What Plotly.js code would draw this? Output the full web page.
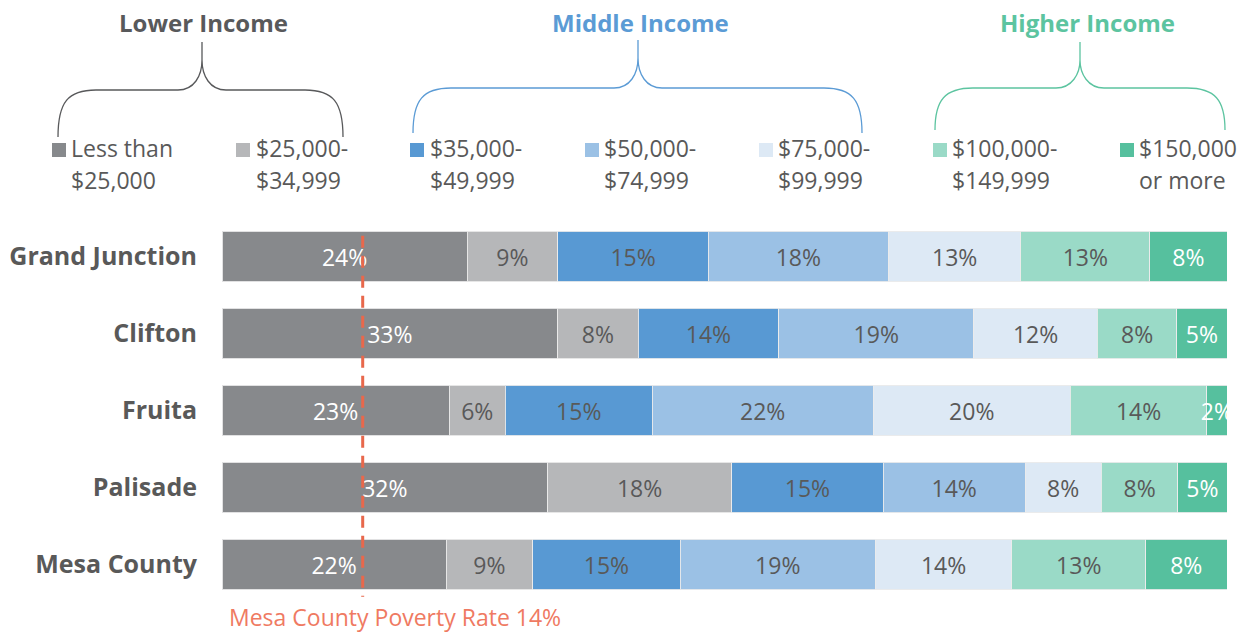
<!DOCTYPE html>
<html>
<head>
<meta charset="utf-8">
<script src="https://cdn.plot.ly/plotly-3.0.1.min.js"></script>
<style>html,body{margin:0;padding:0;background:#fff;}#chart{width:1250px;height:633px;}</style>
</head>
<body>
<div id="chart"></div>
<script>
// ---- data ----
var categories = ['Grand Junction', 'Clifton', 'Fruita', 'Palisade', 'Mesa County'];
var seriesNames = ['Less than $25,000', '$25,000-$34,999', '$35,000-$49,999', '$50,000-$74,999', '$75,000-$99,999', '$100,000-$149,999', '$150,000 or more'];
var legendLine1 = ['Less than', '$25,000-', '$35,000-', '$50,000-', '$75,000-', '$100,000-', '$150,000'];
var legendLine2 = ['$25,000', '$34,999', '$49,999', '$74,999', '$99,999', '$149,999', 'or more'];
var lessThan25k = [24.4, 33.4, 22.6, 32.4, 22.3];
var from25kTo35k = [9.0, 8.0, 5.6, 18.3, 8.6];
var from35kTo50k = [15.0, 14.0, 14.6, 15.1, 14.7];
var from50kTo75k = [17.9, 19.4, 22.0, 14.1, 19.4];
var from75kTo100k = [13.2, 12.3, 19.6, 7.6, 13.6];
var from100kTo150k = [12.8, 7.9, 13.6, 7.6, 13.3];
var over150k = [7.7, 5.0, 2.0, 4.9, 8.1];
var groupTitles = ['Lower Income', 'Middle Income', 'Higher Income'];
var povertyRate = 14;
var povertyLabel = 'Mesa County Poverty Rate 14%';

// ---- styles ----
var colors = ['#87898C', '#B6B7B9', '#5899D3', '#9BC1E5', '#DDE9F5', '#9ADAC7', '#56C09E'];
var textColors = ['#FFFFFF', '#595959', '#595959', '#595959', '#595959', '#595959', '#FFFFFF'];
var groupColors = ['#58595B', '#5B9BD5', '#5CC4A0'];
var FONT = '"Open Sans", "Noto Sans", sans-serif';

var allSeries = [lessThan25k, from25kTo35k, from35kTo50k, from50kTo75k, from75kTo100k, from100kTo150k, over150k];

var traces = allSeries.map(function (vals, i) {
  return {
    type: 'bar',
    orientation: 'h',
    name: seriesNames[i],
    y: categories,
    x: vals,
    text: vals.map(function (v) { return Math.round(v) + '%'; }),
    textposition: 'inside',
    insidetextanchor: 'middle',
    constraintext: 'none',
    textangle: 0,
    textfont: { family: FONT, size: 23, color: textColors[i] },
    marker: { color: colors[i], line: { color: 'rgba(235,235,235,0.9)', width: 1 } },
    hoverinfo: 'x+name',
    cliponaxis: true
  };
});

// plot area geometry (pixels) for converting header positions to paper coords
var L = 222, R = 1227, T = 218, B = 603;
function px(x) { return (x - L) / (R - L); }
function py(y) { return (B - y) / (B - T); }

function brace(x0, xc, x1, yb, yh, yt) {
  var p = [];
  function pt(x, y) { return px(x).toFixed(5) + ',' + py(y).toFixed(5); }
  p.push('M ' + pt(x0, yb));
  p.push('C ' + pt(x0, yh + 12) + ' ' + pt(x0 + 10, yh) + ' ' + pt(x0 + 38, yh));
  p.push('L ' + pt(xc - 24, yh));
  p.push('C ' + pt(xc - 8, yh) + ' ' + pt(xc, yh - 14) + ' ' + pt(xc, yt + 18));
  p.push('L ' + pt(xc, yt));
  p.push('M ' + pt(xc, yt + 18));
  p.push('C ' + pt(xc, yh - 14) + ' ' + pt(xc + 8, yh) + ' ' + pt(xc + 24, yh));
  p.push('L ' + pt(x1 - 38, yh));
  p.push('C ' + pt(x1 - 10, yh) + ' ' + pt(x1, yh + 12) + ' ' + pt(x1, yb));
  return p.join(' ');
}

var shapes = [
  { type: 'path', xref: 'paper', yref: 'paper', path: brace(58, 202, 343, 137, 90, 42), line: { color: groupColors[0], width: 1.3 } },
  { type: 'path', xref: 'paper', yref: 'paper', path: brace(413, 638, 862, 133, 88, 40), line: { color: groupColors[1], width: 1.3 } },
  { type: 'path', xref: 'paper', yref: 'paper', path: brace(935, 1080, 1225, 130, 88, 42), line: { color: groupColors[2], width: 1.3 } },
  { type: 'line', xref: 'x', yref: 'y', x0: povertyRate, x1: povertyRate, y0: -0.27, y1: 4.42,
    line: { color: '#E8684C', width: 3, dash: '12px,8px' }, layer: 'above' }
];

var sqX = [52, 236, 410, 585, 759, 933, 1120];
var txX = [69, 254, 428, 602, 776, 950, 1137];
for (var i = 0; i < 7; i++) {
  shapes.push({ type: 'rect', xref: 'paper', yref: 'paper',
    x0: px(sqX[i]), x1: px(sqX[i] + 14), y0: py(157), y1: py(143),
    fillcolor: colors[i], line: { width: 0 } });
}

var annotations = [];
for (var j = 0; j < 7; j++) {
  annotations.push({ xref: 'paper', yref: 'paper', x: px(txX[j]), y: py(148), xanchor: 'left', yanchor: 'middle',
    text: legendLine1[j], showarrow: false, font: { family: FONT, size: 23, color: '#595959' } });
  annotations.push({ xref: 'paper', yref: 'paper', x: px(txX[j]), y: py(180), xanchor: 'left', yanchor: 'middle',
    text: legendLine2[j], showarrow: false, font: { family: FONT, size: 23, color: '#595959' } });
}
var groupX = [203, 640, 1087];
for (var g = 0; g < 3; g++) {
  annotations.push({ xref: 'paper', yref: 'paper', x: px(groupX[g]), y: py(22), xanchor: 'center', yanchor: 'middle',
    text: '<b>' + groupTitles[g] + '</b>', showarrow: false, font: { family: FONT, size: 24, color: groupColors[g] } });
}
annotations.push({ xref: 'paper', yref: 'paper', x: px(227), y: py(617), xanchor: 'left', yanchor: 'middle',
  text: povertyLabel, showarrow: false, font: { family: FONT, size: 23, color: '#EF7A62' } });

var layout = {
  width: 1250, height: 633,
  margin: { l: L, r: 1250 - R, t: T, b: 633 - B, pad: 0 },
  barmode: 'stack',
  bargap: 0.34,
  showlegend: false,
  paper_bgcolor: '#FFFFFF',
  plot_bgcolor: '#FFFFFF',
  font: { family: FONT, color: '#595959' },
  xaxis: { range: [0, 100], showgrid: false, zeroline: false, showticklabels: false, ticks: '', fixedrange: true },
  yaxis: { type: 'category', range: [4.5, -0.5], showgrid: false, zeroline: false, ticks: '',
    ticklabelstandoff: 24, tickfont: { family: FONT, size: 25, color: '#595959', weight: 'bold' }, fixedrange: true },
  shapes: shapes,
  annotations: annotations
};

Plotly.newPlot('chart', traces, layout, { displayModeBar: false, responsive: false });
</script>
</body>
</html>
